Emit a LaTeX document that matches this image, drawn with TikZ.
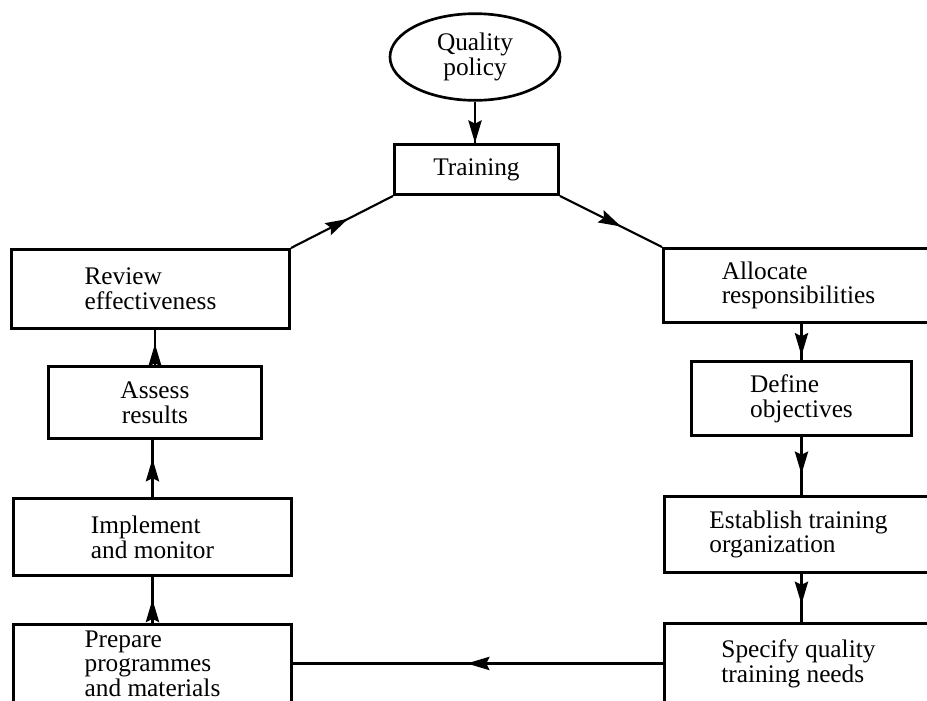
\documentclass[tikz,border=0pt]{standalone}
\usepackage{fontspec}
\setmainfont{Liberation Serif}
\usetikzlibrary{shapes.geometric,arrows.meta,decorations.markings}
\tikzset{
  boxfont/.style={font=\fontsize{19}{18.6}\selectfont},
  box/.style={draw, line width=2.2pt, rectangle, anchor=north west, inner sep=0pt, align=left, boxfont},
  conn/.style={line width=1.6pt},
  tipat/.style={postaction={decorate}, decoration={markings,
    mark=at position #1 with {\arrow{Stealth[length=17pt,width=10pt,inset=2.5pt]}}}}
}
\begin{document}
\begin{tikzpicture}[x=0.75pt,y=-0.75pt]
\path[use as bounding box, fill=white] (0,0) rectangle (927,700);
\clip (0,0) rectangle (927,700);

\node[draw, line width=2pt, ellipse, minimum width=127.5pt, minimum height=65pt, inner sep=0pt,
  align=center, boxfont] (pol) at (475,57) {Quality\\policy};
\node[box, align=center, minimum width=123pt, minimum height=37.5pt] (train) at (393,143) {Training};
\node[box, minimum width=208.5pt, minimum height=59.25pt] (review) at (10,248) {Review\\effectiveness};
\node[box, align=center, minimum width=159.75pt, minimum height=54pt] (assess) at (47,365) {Assess\\results};
\node[box, minimum width=208.5pt, minimum height=57.75pt] (impl) at (12,497) {Implement\\and monitor};
\node[box, minimum width=208.5pt, minimum height=59pt] (prep) at (12,623) {Prepare\\programmes\\and materials};
\node[box, minimum width=202.5pt, minimum height=55.5pt] (alloc) at (662,247) {Allocate\\responsibilities};
\node[box, minimum width=165pt, minimum height=55.5pt] (def) at (690,360) {Define\\objectives};
\node[box, minimum width=201pt, minimum height=57pt] (est) at (663,495) {Establish training\\organization};
\node[box, minimum width=201pt, minimum height=60pt] (spec) at (663,622) {Specify quality\\training needs};

\draw[conn, tipat=1] (pol.south) -- (pol.south |- train.north);
\draw[conn, tipat=0.56] (review.north east) -- (train.south west);
\draw[conn, tipat=0.6] (train.south east) -- (alloc.north west);
\draw[conn, tipat=0.88] (def.north |- alloc.south) -- (def.north);
\draw[conn, tipat=0.64] (def.south) -- (def.south |- est.north);
\draw[conn, tipat=0.63] (def.south |- est.south) -- (def.south |- spec.north);
\draw[conn, tipat=0.53] (spec.west) -- (spec.west -| prep.east);
\draw[conn, tipat=0.51] (prep.north) -- (prep.north |- impl.south);
\draw[conn, tipat=0.67] (impl.north) -- (impl.north |- assess.south);
\draw[conn, tipat=0.6] (assess.north) -- (assess.north |- review.south);
\end{tikzpicture}
\end{document}
